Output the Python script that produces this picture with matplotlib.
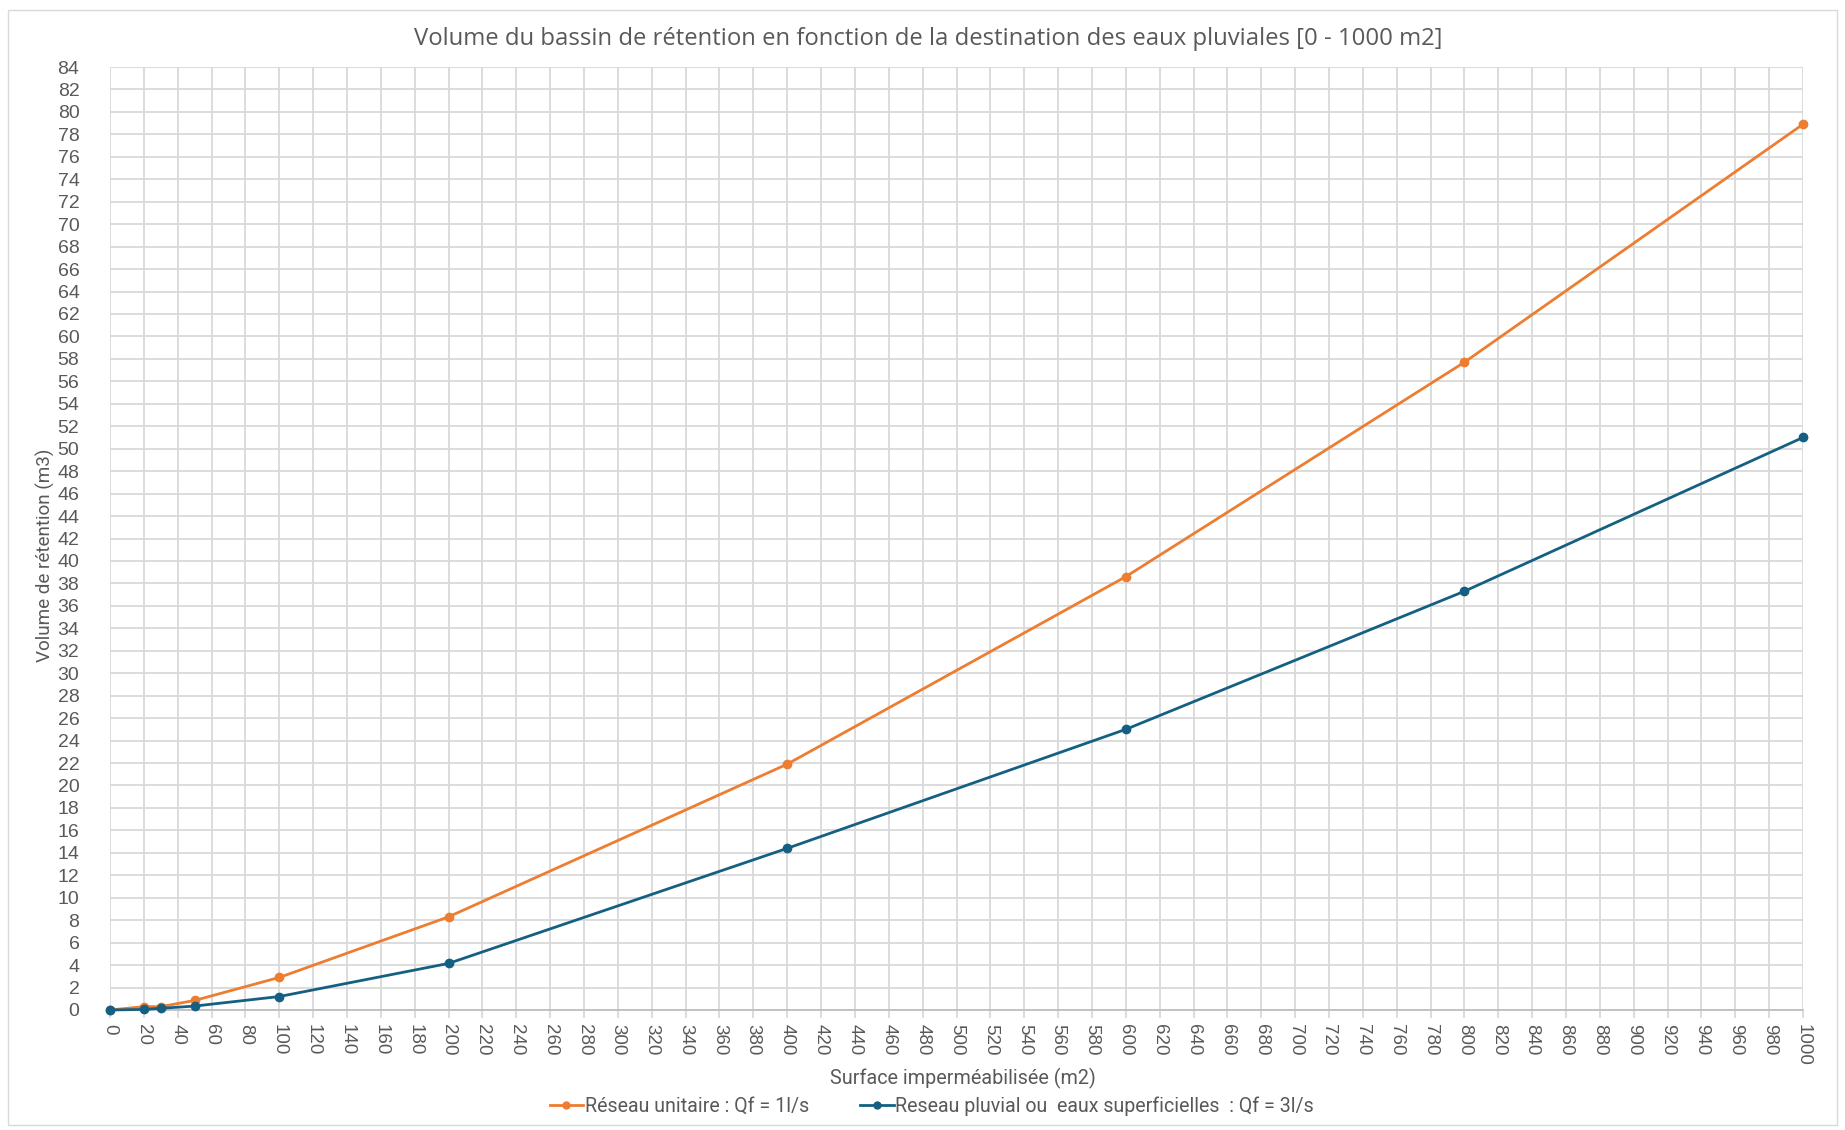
import matplotlib
matplotlib.use("Agg")
import matplotlib.pyplot as plt
from matplotlib.patches import Rectangle

surface = [0, 20, 30, 50, 100, 200, 400, 600, 800, 1000]
unitaire = [0, 0.3, 0.3, 0.85, 2.9, 8.3, 21.9, 38.6, 57.7, 78.9]
pluvial = [0, 0.05, 0.15, 0.35, 1.2, 4.15, 14.4, 25.0, 37.3, 51.0]

title = "Volume du bassin de rétention en fonction de la destination des eaux pluviales [0 - 1000 m2]"
xlabel = "Surface imperméabilisée (m2)"
ylabel = "Volume de rétention (m3)"
label_unitaire = "Réseau unitaire : Qf = 1l/s"
label_pluvial = "Reseau pluvial ou  eaux superficielles  : Qf = 3l/s"
xticks = list(range(0, 1001, 20))
yticks = list(range(0, 85, 2))

ORANGE = "#ED7D31"
BLUE = "#156082"
TEXT = "#595959"
GRID = "#D9D9D9"
NARROW = "Roboto"

W, H = 1845, 1130
fig = plt.figure(figsize=(W / 100, H / 100), dpi=100)
fig.patches.append(Rectangle((8 / W, 1 - 1125 / H), 1829 / W, 1115 / H, transform=fig.transFigure,
                             fill=False, edgecolor="#D9D9D9", linewidth=1))

left, right, top, bottom = 110, 1803, 67, 1010
ax = fig.add_axes([left / W, 1 - bottom / H, (right - left) / W, (bottom - top) / H])

ax.plot(surface, unitaire, color=ORANGE, lw=2.0, marker="o", ms=6, label=label_unitaire, zorder=3, clip_on=False)
ax.plot(surface, pluvial, color=BLUE, lw=2.0, marker="o", ms=6, label=label_pluvial, zorder=3, clip_on=False)

ax.set_xlim(0, 1000)
ax.set_ylim(0, 84)
ax.set_xticks(xticks)
ax.set_yticks(yticks)
ax.grid(True, color=GRID, lw=1.3)
ax.set_axisbelow(True)
for s in ["top", "right", "left"]:
    ax.spines[s].set_visible(False)
ax.spines["bottom"].set_color("#BFBFBF")
ax.spines["bottom"].set_linewidth(1.3)
ax.tick_params(axis="x", colors=GRID, labelcolor=TEXT, length=6, width=1.3, labelsize=13.5,
               labelrotation=-90, pad=4)
ax.tick_params(axis="y", length=0, labelcolor=TEXT, labelsize=14, pad=22)
for lab in ax.get_xticklabels() + ax.get_yticklabels():
    lab.set_family("Liberation Sans")
for lab in ax.get_xticklabels():
    lab.set_verticalalignment("top")

fig.text(928 / W, 1 - 39 / H, title, ha="center", va="center", fontsize=17.2,
         color=TEXT, family="Open Sans")
fig.text(963 / W, 1 - 1078 / H, xlabel, ha="center", va="center", fontsize=14.2,
         color=TEXT, family=NARROW)
fig.text(45 / W, 1 - 555 / H, ylabel, ha="center", va="center", rotation=90,
         fontsize=13.6, color=TEXT, family=NARROW)

leg = fig.legend(loc="center", bbox_to_anchor=(932 / W, 1 - 1106 / H), ncol=2,
                 frameon=False, handlelength=1.7, handletextpad=0.1, columnspacing=2.6,
                 prop={"family": NARROW, "size": 14.1})
for t in leg.get_texts():
    t.set_color(TEXT)
for h in leg.legend_handles:
    h.set_markersize(5)

fig.savefig("out.png", dpi=100, facecolor="white")
